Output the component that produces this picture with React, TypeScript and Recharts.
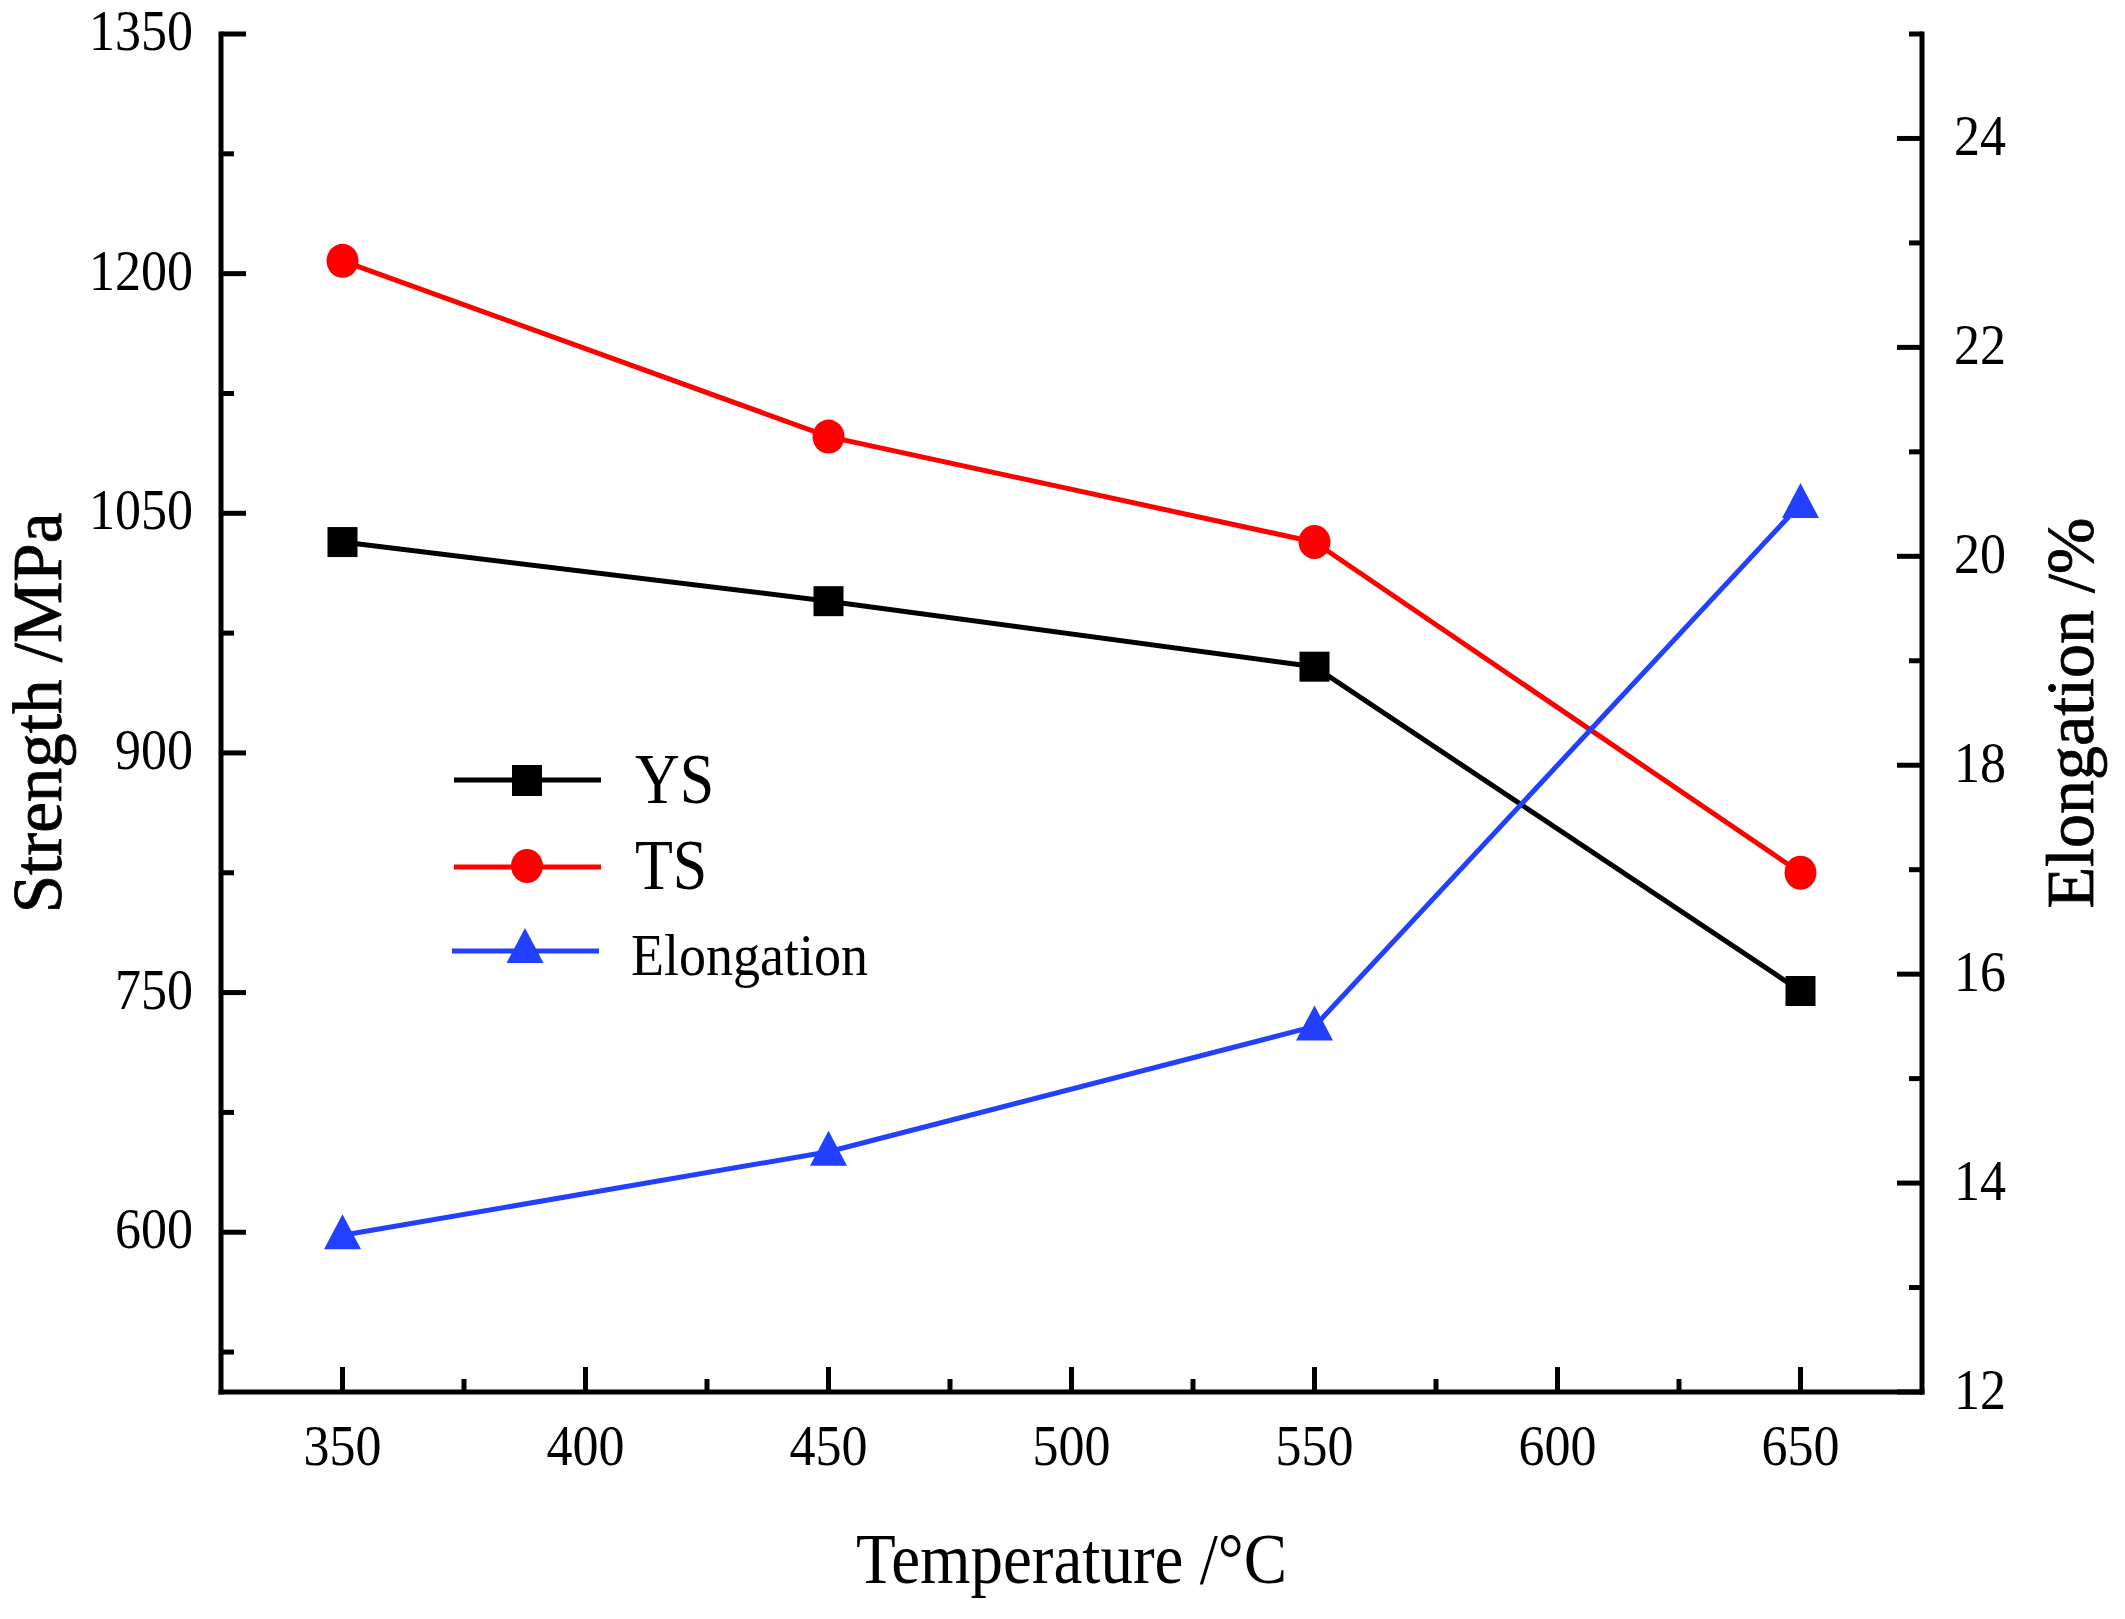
import { LineChart, Line, XAxis, YAxis } from 'recharts';

const temperatures = [350, 450, 550, 650];
const yieldStrength = [1032, 995, 954, 751];
const tensileStrength = [1208, 1098, 1032, 825];
const elongation = [13.5, 14.3, 15.5, 20.5];
const seriesNames = ['YS', 'TS', 'Elongation'];

const xTicks = [350, 375, 400, 425, 450, 475, 500, 525, 550, 575, 600, 625, 650];
const xLabels = [350, 400, 450, 500, 550, 600, 650];
const strengthTicks = [525, 600, 675, 750, 825, 900, 975, 1050, 1125, 1200, 1275, 1350];
const strengthLabels = [600, 750, 900, 1050, 1200, 1350];
const elongTicks = [12, 13, 14, 15, 16, 17, 18, 19, 20, 21, 22, 23, 24, 25];
const elongLabels = [12, 14, 16, 18, 20, 22, 24];

const rows = temperatures.map((t, i) => ({
  t,
  ys: yieldStrength[i],
  ts: tensileStrength[i],
  el: elongation[i],
}));

const FONT = '"Liberation Serif", "Times New Roman", serif';
const BLUE = '#2140ff';
const RED = '#ff0000';
const BLACK = '#000000';

// horizontal text in the figure is slightly condensed, so it gets a small vertical scale
function Txt({ x, y, children, size, sy = 1, anchor = 'middle' }: any) {
  return (
    <text
      transform={`translate(${x},${y}) scale(1,${sy})`}
      textAnchor={anchor}
      fontFamily={FONT}
      fontSize={size}
      fill="#000"
    >
      {children}
    </text>
  );
}

const makeTick = (side: 'bottom' | 'left' | 'right', labels: number[]) => (props: any) => {
  const { x, y, payload } = props;
  const v = payload.value;
  const major = labels.includes(v);
  const len = major ? 25 : 13;
  if (side === 'bottom') {
    return (
      <g>
        <line x1={x} y1={y} x2={x} y2={y - len} stroke="#000" strokeWidth={5} />
        {major && <Txt x={x} y={y + 73} size={52} sy={1.08}>{v}</Txt>}
      </g>
    );
  }
  if (side === 'left') {
    return (
      <g>
        <line x1={x} y1={y} x2={x + len} y2={y} stroke="#000" strokeWidth={5} />
        {major && <Txt x={x - 28} y={y + 16} size={52} sy={1.08} anchor="end">{v}</Txt>}
      </g>
    );
  }
  return (
    <g>
      <line x1={x} y1={y} x2={x - len} y2={y} stroke="#000" strokeWidth={5} />
      {major && <Txt x={x + 32} y={y + 17} size={52} sy={1.08} anchor="start">{v}</Txt>}
    </g>
  );
};

const square = (p: any) => (
  <rect key={`s${p.index}`} x={p.cx - 15} y={p.cy - 15} width={30} height={30} fill={BLACK} />
);
const circle = (p: any) => (
  <ellipse key={`c${p.index}`} cx={p.cx} cy={p.cy} rx={16} ry={17} fill={RED} />
);
const triangle = (p: any) => (
  <polygon
    key={`t${p.index}`}
    points={`${p.cx},${p.cy - 21} ${p.cx - 18.5},${p.cy + 14} ${p.cx + 18.5},${p.cy + 14}`}
    fill={BLUE}
  />
);

function SeriesLegend() {
  const x1 = 454;
  const x2 = 601;
  const mx = 527;
  return (
    <g>
      <line x1={x1} y1={780} x2={x2} y2={780} stroke={BLACK} strokeWidth={5} />
      <rect x={mx - 15} y={765} width={30} height={31} fill={BLACK} />
      <Txt x={635} y={803} size={62} sy={1.15} anchor="start">{seriesNames[0]}</Txt>

      <line x1={x1} y1={867} x2={x2} y2={867} stroke={RED} strokeWidth={5} />
      <ellipse cx={mx} cy={866} rx={16} ry={17} fill={RED} />
      <Txt x={635} y={889} size={62} sy={1.15} anchor="start">{seriesNames[1]}</Txt>

      <line x1={x1 - 2} y1={951} x2={x2 - 2} y2={951} stroke={BLUE} strokeWidth={5} />
      <polygon points={`${mx - 2},928 ${mx - 20.5},963 ${mx + 16.5},963`} fill={BLUE} />
      <Txt x={631} y={975} size={54} sy={1.09} anchor="start">{seriesNames[2]}</Txt>
    </g>
  );
}

const frame = { stroke: '#000', strokeWidth: 5, strokeLinecap: 'square' as const };

export default function App() {
  return (
    <div style={{ position: 'absolute', left: 0, top: 0, width: 2125, height: 1619, background: '#fff' }}>
      <LineChart width={2125} height={1619} data={rows} margin={{ top: 34, right: 0, bottom: 0, left: 0 }}>
        <XAxis
          dataKey="t"
          type="number"
          domain={[325, 675]}
          ticks={xTicks}
          interval={0}
          height={227}
          tickSize={0}
          tickMargin={0}
          tickLine={false}
          axisLine={frame}
          tick={makeTick('bottom', xLabels)}
          label={{
            content: ({ viewBox }: any) => (
              <Txt x={viewBox.x + viewBox.width / 2} y={viewBox.y + 191} size={65} sy={1.12}>
                Temperature /°C
              </Txt>
            ),
          }}
        />
        <XAxis
          xAxisId="top"
          orientation="top"
          type="number"
          domain={[325, 675]}
          height={0}
          tick={false}
          tickLine={false}
          axisLine={frame}
        />
        <YAxis
          yAxisId="s"
          type="number"
          domain={[500, 1350]}
          ticks={strengthTicks}
          interval={0}
          width={221}
          tickSize={0}
          tickMargin={0}
          tickLine={false}
          axisLine={frame}
          tick={makeTick('left', strengthLabels)}
          label={{
            content: ({ viewBox }: any) => (
              <text
                transform={`translate(${viewBox.x + 61},${viewBox.y + viewBox.height / 2}) rotate(-90)`}
                textAnchor="middle"
                fontFamily={FONT}
                fontSize={69}
                fill="#000"
                stroke="#000"
                strokeWidth={0.8}
              >
                Strength /MPa
              </text>
            ),
          }}
        />
        <YAxis
          yAxisId="e"
          orientation="right"
          type="number"
          domain={[12, 25]}
          ticks={elongTicks}
          interval={0}
          width={203}
          tickSize={0}
          tickMargin={0}
          tickLine={false}
          axisLine={frame}
          tick={makeTick('right', elongLabels)}
          label={{
            content: ({ viewBox }: any) => (
              <text
                transform={`translate(${viewBox.x + 171},${viewBox.y + viewBox.height / 2}) rotate(-90)`}
                textAnchor="middle"
                fontFamily={FONT}
                fontSize={68}
                fill="#000"
                stroke="#000"
                strokeWidth={0.8}
              >
                Elongation /%
              </text>
            ),
          }}
        />
        <Line yAxisId="s" dataKey="ys" name={seriesNames[0]} stroke={BLACK} strokeWidth={5} dot={square} isAnimationActive={false} />
        <Line yAxisId="s" dataKey="ts" name={seriesNames[1]} stroke={RED} strokeWidth={5} dot={circle} isAnimationActive={false} />
        <Line yAxisId="e" dataKey="el" name={seriesNames[2]} stroke={BLUE} strokeWidth={5} dot={triangle} isAnimationActive={false} />
        <SeriesLegend />
      </LineChart>
    </div>
  );
}
